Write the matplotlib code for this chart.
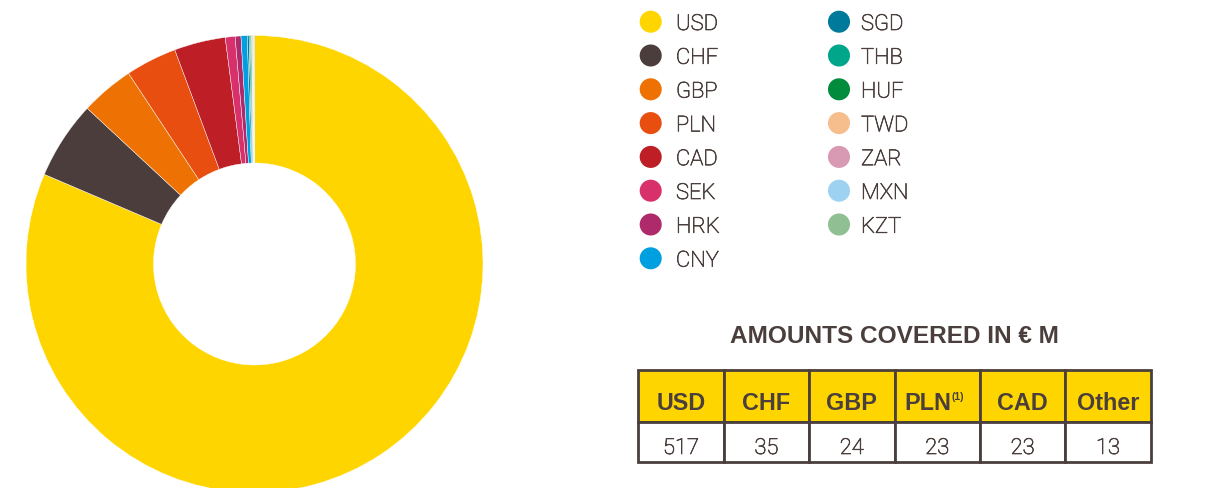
import matplotlib
matplotlib.use("Agg")
import matplotlib.pyplot as plt
from matplotlib.patches import Rectangle
import matplotlib.patheffects as pe

W, H, DPI = 1223, 489, 100

# ---- data ----
currencies = ["USD", "CHF", "GBP", "PLN", "CAD", "SEK", "HRK", "CNY",
              "SGD", "THB", "HUF", "TWD", "ZAR", "MXN", "KZT"]
shares = [517, 35, 24, 23, 23, 4.4, 2.6, 2.8, 0.8, 0.6, 0.5, 0.4, 0.3, 0.3, 0.3]
colors = ["#FFD500", "#4B3D3C", "#EE7203", "#E84E0F", "#BE1E25", "#D8306B",
          "#AE2A6A", "#00A0E0", "#007A9A", "#00A689", "#008C3C", "#F7BE8D",
          "#D899B2", "#9DD2F0", "#8FBF92"]
table_headers = ["USD", "CHF", "GBP", "PLN", "CAD", "Other"]
table_values = ["517", "35", "24", "23", "23", "13"]
table_title = "AMOUNTS COVERED IN € M"

TXT = "#4A3F3C"
YEL = "#FFD500"
plt.rcParams['font.family'] = ['Liberation Sans', 'DejaVu Sans']
LIGHT = dict(family=['Roboto', 'Liberation Sans', 'DejaVu Sans'], fontweight='light',
             path_effects=[pe.withStroke(linewidth=0.5, foreground=TXT)])

fig = plt.figure(figsize=(W / DPI, H / DPI), dpi=DPI)

# overlay axes in pixel coordinates
ov = fig.add_axes([0, 0, 1, 1])
ov.set_xlim(0, W)
ov.set_ylim(H, 0)
ov.axis("off")

# ---- donut ----
cx, cy, R, r_in = 254.5, 265.0, 228.5, 101.0
pax = fig.add_axes([(cx - R) / W, (H - cy - R) / H, 2 * R / W, 2 * R / H])
pax.pie(shares, colors=colors, startangle=90, counterclock=False, radius=1,
        wedgeprops=dict(width=(R - r_in) / R, edgecolor="white", linewidth=0.3))
pax.set_xlim(-1, 1)
pax.set_ylim(-1, 1)
pax.set_aspect("equal")
pax.axis("off")
for p in pax.patches:
    p.set_clip_on(False)

# ---- legend ----
col_x = [(650.7, 676), (839, 861)]
row0, dy = 22.7, 33.8
n_left = 8
for i, (name, c) in enumerate(zip(currencies, colors)):
    col = 0 if i < n_left else 1
    row = i if i < n_left else i - n_left
    y = row0 + row * dy
    ov.scatter([col_x[col][0]], [y], s=252, color=c, edgecolors="none")
    ov.text(col_x[col][1], y + 8.3, name, fontsize=15.8, color=TXT,
            va="baseline", ha="left", **LIGHT)

# ---- table title ----
tx0, tx1 = 638.3, 1150.7
ov.text((tx0 + tx1) / 2, 343.3, table_title, fontsize=17.6, fontweight="bold",
        color=TXT, ha="center", va="baseline")

# ---- table ----
ty0, ty_mid, ty1 = 371, 423, 463
ncol = len(table_headers)
cw = (tx1 - tx0) / ncol
for j, (hd, val) in enumerate(zip(table_headers, table_values)):
    x = tx0 + j * cw
    ov.add_patch(Rectangle((x, ty0), cw, ty_mid - ty0, facecolor=YEL,
                           edgecolor=TXT, linewidth=2))
    ov.add_patch(Rectangle((x, ty_mid), cw, ty1 - ty_mid, facecolor="white",
                           edgecolor=TXT, linewidth=2))
    xc = x + cw / 2
    if hd == "PLN":
        ov.text(xc - 9.5, 409.5, hd, fontsize=16.8, fontweight="bold", color=TXT,
                ha="center", va="baseline")
        ov.text(xc + 14.5, 400, "(1)", fontsize=7.5, fontweight="bold", color=TXT,
                ha="left", va="baseline")
    else:
        ov.text(xc, 409.5, hd, fontsize=16.8, fontweight="bold", color=TXT,
                ha="center", va="baseline")
    ov.text(xc, 455, val, fontsize=15.8, color=TXT, ha="center", va="baseline",
            **LIGHT)

fig.savefig("out.png", dpi=DPI)
